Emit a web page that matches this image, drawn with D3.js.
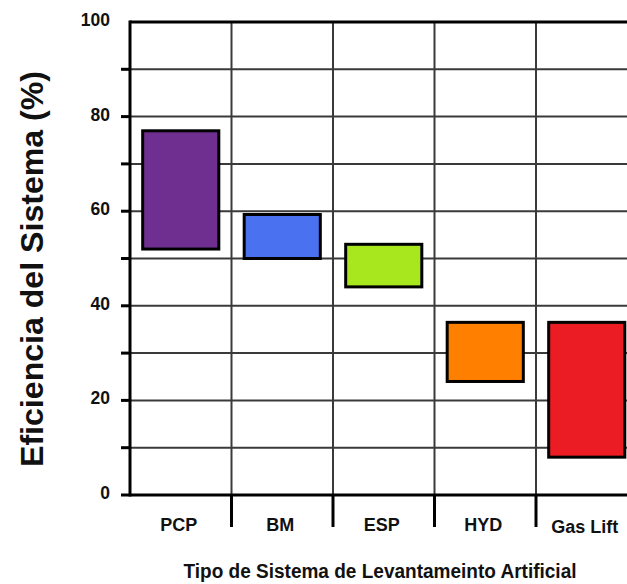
<!DOCTYPE html>
<html><head><meta charset="utf-8">
<script src="https://cdn.jsdelivr.net/npm/d3@7"></script>
<style>body{margin:0;background:#fff}svg{display:block}text{font-family:"Liberation Sans",Arial,sans-serif;font-weight:bold;fill:#111}</style>
</head><body><svg id="c" width="627" height="584"></svg>
<script>
const categories = ["PCP","BM","ESP","HYD","Gas Lift"];
const lowValues  = [52, 50, 44, 24, 8];
const highValues = [77, 59.3, 53, 36.5, 36.5];
const colors     = ["#6F2F91","#4A72F0","#A8E61E","#FF8000","#EC1C24"];
const yTicks     = [0,20,40,60,80,100];
const yGrid      = [10,20,30,40,50,60,70,80,90];

const svg = d3.select("#c");
const L = 130, T = 22, B = 495, step = 101.5;
const x = d3.scaleBand().domain(categories).range([L, L + step*categories.length]).paddingInner(0.25).paddingOuter(0.125);
const y = d3.scaleLinear().domain([0,100]).range([B, T]);

// horizontal grid
svg.append("g").selectAll("line").data(yGrid).join("line")
  .attr("x1", L).attr("x2", 627).attr("y1", d=>y(d)).attr("y2", d=>y(d))
  .attr("stroke", "#3a3a3a").attr("stroke-width", 2);
// vertical grid at category boundaries
const bounds = categories.slice(1).map(c => x(c) - x.step()*x.paddingInner()/2);
svg.append("g").selectAll("line").data(bounds).join("line")
  .attr("x1", d=>d).attr("x2", d=>d).attr("y1", T).attr("y2", B)
  .attr("stroke", "#3a3a3a").attr("stroke-width", 2);

// bars
svg.append("g").selectAll("rect").data(categories).join("rect")
  .attr("x", d=>x(d)).attr("width", x.bandwidth())
  .attr("y", (d,i)=>y(highValues[i])).attr("height", (d,i)=>y(lowValues[i]) - y(highValues[i]))
  .attr("fill", (d,i)=>colors[i]).attr("stroke", "#000").attr("stroke-width", 3);

// axes frame
svg.append("line").attr("x1", L).attr("x2", L).attr("y1", T-1.5).attr("y2", B+1.5).attr("stroke","#000").attr("stroke-width",3);
svg.append("line").attr("x1", L).attr("x2", 627).attr("y1", B).attr("y2", B).attr("stroke","#000").attr("stroke-width",3);
svg.append("line").attr("x1", L).attr("x2", 627).attr("y1", T).attr("y2", T).attr("stroke","#000").attr("stroke-width",3);

// y ticks (every 10 except top) 
svg.append("g").selectAll("line").data(yGrid.concat([0])).join("line")
  .attr("x1", 121).attr("x2", L).attr("y1", d=>y(d)).attr("y2", d=>y(d))
  .attr("stroke","#000").attr("stroke-width",3);
svg.append("g").selectAll("text").data(yTicks).join("text")
  .attr("x", 110).attr("y", d=>y(d)+4).attr("text-anchor","end")
  .attr("font-size", 17.5).text(d=>d);

// x ticks at boundaries
svg.append("g").selectAll("line").data(bounds).join("line")
  .attr("x1", d=>d).attr("x2", d=>d).attr("y1", B).attr("y2", 527)
  .attr("stroke","#000").attr("stroke-width",3);
svg.append("g").selectAll("text").data(categories).join("text")
  .attr("x", d=>x(d)+x.bandwidth()/2 - 2).attr("y", (d,i)=> i===4 ? 533 : 531).attr("text-anchor","middle")
  .attr("font-size", 18).text(d=>d);

// titles
svg.append("text").attr("x", 380).attr("y", 578).attr("text-anchor","middle")
  .attr("font-size", 20).attr("textLength", 393).attr("lengthAdjust","spacingAndGlyphs")
  .text("Tipo de Sistema de Levantameinto Artificial");
svg.append("text").attr("transform","translate(43,269) rotate(-90)").attr("text-anchor","middle")
  .attr("font-size", 31).attr("textLength", 396).attr("lengthAdjust","spacingAndGlyphs")
  .text("Eficiencia del Sistema (%)");
</script></body></html>
